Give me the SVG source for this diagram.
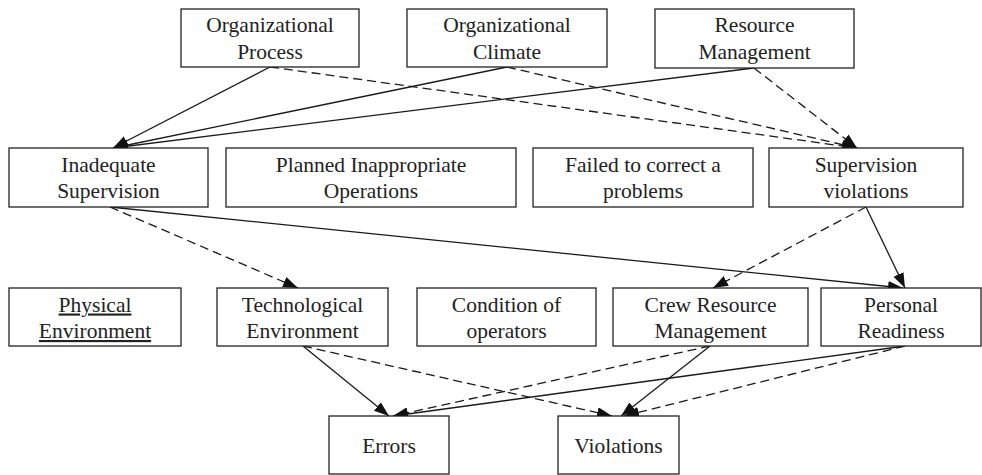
<svg xmlns="http://www.w3.org/2000/svg" width="982" height="475" viewBox="0 0 982 475">
  <style>
    .box { fill: #ffffff; stroke: #222222; stroke-width: 1.3; }
    .lbl { font-family: 'Liberation Serif', 'Times New Roman', Times, 'DejaVu Serif', serif; font-size: 21.5px; fill: #222222; text-anchor: middle; }
    .u { text-decoration: underline; }
    .edge { fill: none; stroke: #1a1a1a; stroke-width: 1.3; marker-end: url(#head); }
    .dash { stroke-dasharray: 9 5; }
  </style>
  <defs>
    <marker id="head" markerUnits="userSpaceOnUse" markerWidth="17" markerHeight="13" refX="15" refY="5.5" orient="auto">
      <path d="M0,0 L15,5.5 L0,11 Z" fill="#111111"/>
    </marker>
  </defs>

  <rect width="982" height="475" fill="#ffffff"/>

  <!-- connectors -->
  <g id="connectors">
    <path class="edge" d="M270,67 L113,148"/>
    <path class="edge" d="M507,67 L113,148"/>
    <path class="edge" d="M754,68 L113,148"/>
    <path class="edge dash" d="M270,67 L857,148"/>
    <path class="edge dash" d="M507,67 L857,148"/>
    <path class="edge dash" d="M754,68 L857,148"/>
    <path class="edge dash" d="M110,207 L298,288"/>
    <path class="edge" d="M110,207 L903,288"/>
    <path class="edge" d="M866,207 L905,288"/>
    <path class="edge dash" d="M866,207 L713,288"/>
    <path class="edge" d="M303,346 L389,416"/>
    <path class="edge dash" d="M303,346 L612,416"/>
    <path class="edge dash" d="M710,346 L393,416"/>
    <path class="edge" d="M710,346 L621,416"/>
    <path class="edge" d="M905,346 L393,416"/>
    <path class="edge dash" d="M905,346 L624,416"/>
  </g>

  <g font-family="'Liberation Serif', 'Times New Roman', Times, 'DejaVu Serif', serif">
  <!-- organizational influences -->
  <g id="organizational-process">
    <rect class="box" x="181" y="9" width="178" height="58"/>
    <text class="lbl" x="270" y="32">Organizational</text>
    <text class="lbl" x="270" y="58.5">Process</text>
  </g>
  <g id="organizational-climate">
    <rect class="box" x="407" y="9" width="200" height="58"/>
    <text class="lbl" x="507" y="32">Organizational</text>
    <text class="lbl" x="507" y="58.5">Climate</text>
  </g>
  <g id="resource-management">
    <rect class="box" x="655" y="9" width="199" height="59"/>
    <text class="lbl" x="754.5" y="32">Resource</text>
    <text class="lbl" x="754.5" y="58.5">Management</text>
  </g>

  <!-- unsafe supervision -->
  <g id="inadequate-supervision">
    <rect class="box" x="9" y="148" width="199" height="59"/>
    <text class="lbl" x="108.5" y="172">Inadequate</text>
    <text class="lbl" x="108.5" y="198">Supervision</text>
  </g>
  <g id="planned-inappropriate-operations">
    <rect class="box" x="226" y="148" width="290" height="59"/>
    <text class="lbl" x="371" y="172">Planned Inappropriate</text>
    <text class="lbl" x="371" y="198">Operations</text>
  </g>
  <g id="failed-to-correct">
    <rect class="box" x="533" y="148" width="220" height="59"/>
    <text class="lbl" x="643" y="172">Failed to correct a</text>
    <text class="lbl" x="643" y="198">problems</text>
  </g>
  <g id="supervision-violations">
    <rect class="box" x="769" y="148" width="194" height="59"/>
    <text class="lbl" x="866" y="172">Supervision</text>
    <text class="lbl" x="866" y="198">violations</text>
  </g>

  <!-- preconditions -->
  <g id="physical-environment">
    <rect class="box" x="9" y="288" width="172" height="58"/>
    <text class="lbl u" x="95" y="311.5">Physical</text>
    <text class="lbl u" x="95" y="338">Environment</text>
  </g>
  <g id="technological-environment">
    <rect class="box" x="217" y="288" width="171" height="58"/>
    <text class="lbl" x="302.5" y="311.5">Technological</text>
    <text class="lbl" x="302.5" y="338">Environment</text>
  </g>
  <g id="condition-of-operators">
    <rect class="box" x="417" y="288" width="179" height="58"/>
    <text class="lbl" x="506.5" y="311.5">Condition of</text>
    <text class="lbl" x="506.5" y="338">operators</text>
  </g>
  <g id="crew-resource-management">
    <rect class="box" x="613" y="288" width="195" height="58"/>
    <text class="lbl" x="710.5" y="311.5">Crew Resource</text>
    <text class="lbl" x="710.5" y="338">Management</text>
  </g>
  <g id="personal-readiness">
    <rect class="box" x="821" y="288" width="160" height="58"/>
    <text class="lbl" x="901" y="311.5">Personal</text>
    <text class="lbl" x="901" y="338">Readiness</text>
  </g>

  <!-- unsafe acts -->
  <g id="errors">
    <rect class="box" x="329" y="416" width="120" height="58"/>
    <text class="lbl" x="389" y="452.5">Errors</text>
  </g>
  <g id="violations">
    <rect class="box" x="558" y="416" width="121" height="58"/>
    <text class="lbl" x="618.5" y="452.5">Violations</text>
  </g>
  </g>
</svg>
